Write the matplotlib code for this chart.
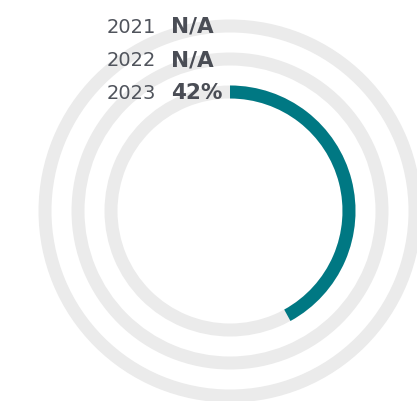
import numpy as np
import matplotlib
matplotlib.use("Agg")
import matplotlib.pyplot as plt
from matplotlib.patches import Wedge

# data: one ring per year, None means no value
years = ["2021", "2022", "2023"]
values = [None, None, 0.42]

C_TRACK = "#ebebeb"
C_FILL = "#007883"
C_YEAR = "#50545c"
C_VALUE = "#4a4d55"

W, H = 417, 401
CX, CY = 230, 211
RADII = [185, 152, 119]   # ring centre-line radius, px
RING_W = 13

fig = plt.figure(figsize=(W / 100, H / 100), dpi=100)
ax = fig.add_axes([0, 0, 1, 1])
ax.set_xlim(0, W)
ax.set_ylim(H, 0)
ax.set_aspect("equal")
ax.axis("off")

for year, val, r in zip(years, values, RADII):
    outer = r + RING_W / 2
    ax.add_patch(Wedge((CX, CY), outer, 0, 360, width=RING_W,
                       facecolor=C_TRACK, edgecolor="none"))
    if val is not None:
        # y axis is flipped, so angles run clockwise on screen
        ax.add_patch(Wedge((CX, CY), outer, -90, -90 + 360 * val,
                           width=RING_W, facecolor=C_FILL, edgecolor="none"))
        label = f"{val * 100:.0f}%"
    else:
        label = "N/A"

    ty = CY - r + 7
    ax.text(107, ty, year, fontsize=14, color=C_YEAR, ha="left",
            va="baseline", family="DejaVu Sans")
    ax.text(171, ty, label, fontsize=15.5, color=C_VALUE, ha="left",
            va="baseline", fontweight="bold", family="DejaVu Sans")

fig.savefig("out.png", dpi=100)
